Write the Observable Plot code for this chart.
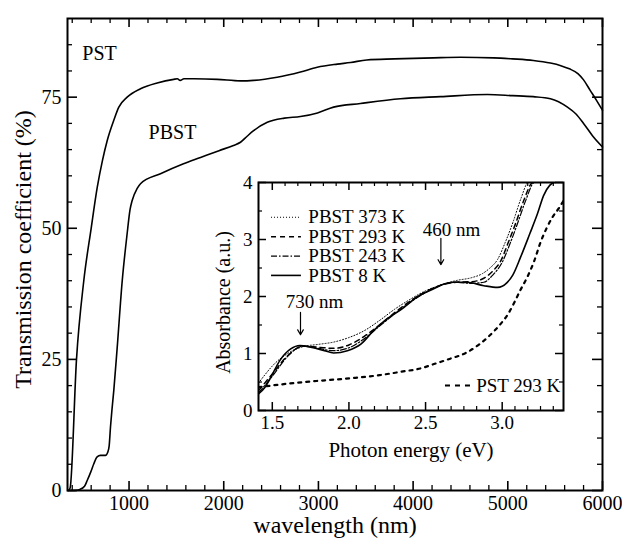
<!DOCTYPE html>
<html><head><meta charset="utf-8">
<script src="https://cdn.jsdelivr.net/npm/d3@7"></script>
<script src="https://cdn.jsdelivr.net/npm/@observablehq/plot@0.6"></script>
<style>
body{margin:0;background:#fff;}
#wrap{position:relative;width:622px;height:541px;}
#inset{position:absolute;left:200px;top:172px;}
</style></head><body>
<div id="wrap"><div id="main"></div><div id="inset"></div></div>
<script>
// ---- main chart data: [wavelength nm, transmission %] ----
const pstTransmission = [[362,0],[378,0.5],[445,25],[522,40],[600,50],[664,57.8],[720,63],[769,66.7],[839,70.6],[892,73.1],[980,75],[1121,76.6],[1297,77.7],[1472,78.4],[1510,78.5],[1540,78.2],[1580,78.5],[1684,78.5],[1931,78.4],[2177,78.1],[2317,78.2],[2564,78.8],[2810,79.8],[2987,80.7],[3200,81.3],[3340,81.6],[3510,82.1],[3800,82.3],[4215,82.5],[4500,82.6],[4850,82.5],[5050,82.3],[5270,82],[5450,81.5],[5560,81],[5650,80.4],[5740,79.5],[5800,78.3],[5870,76.3],[5940,74.3],[6000,72.5]];
const pbstTransmission = [[355,0],[420,0],[480,0.2],[530,0.8],[558,1.9],[595,3.5],[628,5.1],[663,6.4],[698,6.7],[751,6.7],[775,7.3],[790,8.5],[804,12.1],[820,15.5],[839,19.1],[875,27.3],[928,40],[980,49],[1010,53.5],[1033,55.3],[1086,57.6],[1121,58.5],[1332,60.4],[1575,62.3],[1755,63.5],[1950,64.8],[2103,65.8],[2177,66.4],[2250,67.6],[2315,68.6],[2460,70.2],[2640,71.0],[2810,71.3],[2990,72],[3160,73.1],[3444,73.8],[3866,74.7],[4290,75.1],[4785,75.5],[5050,75.3],[5270,75.1],[5450,74.7],[5630,73.1],[5720,71.8],[5800,70],[5905,67.4],[6000,65.5]];
const mainXTicks = [1000,2000,3000,4000,5000,6000];
const mainYTicks = [0,25,50,75];
const curveLabels = ["PST","PBST"];

// ---- inset data: [photon energy eV, absorbance a.u.] ----
const pbst373 = [[1.41,0.48],[1.45,0.62],[1.5,0.78],[1.6,1.0],[1.7,1.12],[1.8,1.16],[1.9,1.2],[2.0,1.28],[2.1,1.4],[2.2,1.58],[2.3,1.78],[2.4,1.95],[2.5,2.1],[2.6,2.2],[2.7,2.28],[2.8,2.33],[2.87,2.4],[2.92,2.5],[2.97,2.65],[3.02,2.95],[3.07,3.3],[3.12,3.7],[3.17,4.0],[3.25,4.02]];
const pbst293 = [[1.41,0.35],[1.5,0.64],[1.6,0.96],[1.7,1.13],[1.8,1.11],[1.9,1.09],[2.0,1.15],[2.1,1.3],[2.2,1.5],[2.3,1.72],[2.4,1.92],[2.5,2.08],[2.6,2.2],[2.7,2.25],[2.8,2.26],[2.88,2.32],[2.94,2.45],[2.99,2.62],[3.04,2.95],[3.09,3.3],[3.14,3.68],[3.2,4.0],[3.28,4.02]];
const pbst243 = [[1.41,0.31],[1.5,0.6],[1.6,0.95],[1.7,1.13],[1.8,1.09],[1.9,1.05],[2.0,1.1],[2.1,1.26],[2.2,1.48],[2.3,1.7],[2.4,1.9],[2.5,2.07],[2.6,2.2],[2.7,2.25],[2.8,2.23],[2.88,2.25],[2.94,2.38],[3.0,2.6],[3.05,2.92],[3.1,3.28],[3.15,3.66],[3.21,4.0],[3.3,4.02]];
const pbst8 = [[1.41,0.29],[1.45,0.4],[1.49,0.58],[1.55,0.88],[1.62,1.08],[1.68,1.14],[1.75,1.11],[1.84,1.05],[1.90,1.01],[1.99,1.05],[2.08,1.17],[2.16,1.40],[2.25,1.61],[2.34,1.77],[2.45,2.0],[2.55,2.13],[2.62,2.22],[2.68,2.25],[2.77,2.25],[2.88,2.19],[2.97,2.16],[3.03,2.24],[3.07,2.38],[3.12,2.69],[3.18,3.1],[3.23,3.45],[3.27,3.77],[3.31,3.95],[3.34,4.0],[3.4,4.02]];
const pst293 = [[1.41,0.41],[1.6,0.47],[1.8,0.52],[2.03,0.57],[2.2,0.62],[2.34,0.68],[2.47,0.74],[2.55,0.81],[2.65,0.9],[2.77,1.02],[2.85,1.16],[2.90,1.27],[2.95,1.4],[2.99,1.52],[3.04,1.7],[3.08,1.9],[3.12,2.12],[3.16,2.32],[3.21,2.63],[3.25,2.95],[3.29,3.2],[3.33,3.4],[3.37,3.55],[3.40,3.68]];
const insetXTicks = [1.5,2.0,2.5,3.0];
const insetYTicks = [0,1,2,3,4];
const legendLabels = ["PBST 373 K","PBST 293 K","PBST 243 K","PBST 8 K"];
const pstLegendLabel = "PST 293 K";
const peakLabels = ["460 nm","730 nm"];

const FONT = "'Liberation Serif','Times New Roman',serif";

// ---------------- main chart ----------------
const W = 622, H = 541, ML = 67, MR = 20, MT = 18, MB = 51;
const iw = W - ML - MR, ih = H - MT - MB;
const xMinor = d3.range(400, 6000, 200).filter(d => d % 1000 !== 0);
const yMinor = d3.range(5, 90, 5).filter(d => d % 25 !== 0);
const id = d => d;

const main = Plot.plot({
  width: W, height: H, marginLeft: ML, marginRight: MR, marginTop: MT, marginBottom: MB,
  style: {fontFamily: FONT, fontSize: "20px", color: "black", background: "white"},
  x: {domain: [350, 6000]},
  y: {domain: [0, 90]},
  marks: [
    Plot.tickX(xMinor, {x: id, insetTop: ih - 5, strokeWidth: 1.3}),
    Plot.tickX(xMinor, {x: id, insetBottom: ih - 5, strokeWidth: 1.3}),
    Plot.tickX(mainXTicks, {x: id, insetTop: ih - 9, strokeWidth: 1.6}),
    Plot.tickX(mainXTicks, {x: id, insetBottom: ih - 9, strokeWidth: 1.6}),
    Plot.tickY(yMinor, {y: id, insetRight: iw - 5, strokeWidth: 1.3}),
    Plot.tickY(yMinor, {y: id, insetLeft: iw - 5, strokeWidth: 1.3}),
    Plot.tickY(mainYTicks, {y: id, insetRight: iw - 10, strokeWidth: 1.6}),
    Plot.tickY(mainYTicks, {y: id, insetLeft: iw - 10, strokeWidth: 1.6}),
    Plot.axisX(mainXTicks, {tickSize: 0, tickPadding: 5, label: null, tickFormat: d => String(d), fontSize: 20}),
    Plot.axisY(mainYTicks, {tickSize: 0, tickPadding: 6, label: null, tickFormat: d => String(d), fontSize: 20}),
    Plot.line(pstTransmission, {x: d => d[0], y: d => d[1], curve: "monotone-x", stroke: "black", strokeWidth: 1.6}),
    Plot.line(pbstTransmission, {x: d => d[0], y: d => d[1], curve: "monotone-x", stroke: "black", strokeWidth: 1.6}),
    Plot.text([curveLabels[0]], {x: 688, y: 83.3, text: id, fontSize: 20}),
    Plot.text([curveLabels[1]], {x: 1459, y: 68.3, text: id, fontSize: 20}),
    Plot.text(["wavelength (nm)"], {frameAnchor: "bottom", textAnchor: "middle", lineAnchor: "middle", dy: 35, text: id, fontSize: 24}),
    Plot.text(["Transmission coefficient (%)"], {frameAnchor: "left", textAnchor: "middle", lineAnchor: "middle", rotate: -90, dx: -44, dy: -5, text: id, fontSize: 24}),
    Plot.frame({stroke: "black", strokeWidth: 2})
  ]
});
document.getElementById("main").append(main);

// ---------------- inset ----------------
const IW = 372, IH = 290, IML = 58, IMR = 9, IMT = 10, IMB = 52;
const iiw = IW - IML - IMR, iih = IH - IMT - IMB;
const ixMinor = d3.range(1, 23).filter(k => k % 6 !== 0).map(k => 1.5 + k / 12);
const iyMinor = [0.5, 1.5, 2.5, 3.5];
const styles = [
  {strokeDasharray: "1,2", strokeWidth: 1},
  {strokeDasharray: "5,4", strokeWidth: 1.5},
  {strokeDasharray: "6,2,1.5,2", strokeWidth: 1.2},
  {strokeDasharray: null, strokeWidth: 1.6}
];
const series = [pbst373, pbst293, pbst243, pbst8];
const legendMarks = [];
legendLabels.forEach((lab, i) => {
  const yy = 3.39 - i * 0.34;
  legendMarks.push(Plot.ruleY([yy], {x1: 1.495, x2: 1.69, stroke: "black", ...styles[i]}));
  legendMarks.push(Plot.text([lab], {x: 1.735, y: yy, text: id, textAnchor: "start", fontSize: 19}));
});

const inset = Plot.plot({
  width: IW, height: IH, marginLeft: IML, marginRight: IMR, marginTop: IMT, marginBottom: IMB,
  style: {fontFamily: FONT, fontSize: "19px", color: "black", background: "white"},
  x: {domain: [1.41, 3.4]},
  y: {domain: [0, 4]},
  marks: [
    Plot.tickX(ixMinor, {x: id, insetTop: iih - 4, strokeWidth: 1.2}),
    Plot.tickX(ixMinor, {x: id, insetBottom: iih - 4, strokeWidth: 1.2}),
    Plot.tickX(insetXTicks, {x: id, insetTop: iih - 8, strokeWidth: 1.5}),
    Plot.tickX(insetXTicks, {x: id, insetBottom: iih - 8, strokeWidth: 1.5}),
    Plot.tickY(iyMinor, {y: id, insetRight: iiw - 4, strokeWidth: 1.2}),
    Plot.tickY(iyMinor, {y: id, insetLeft: iiw - 4, strokeWidth: 1.2}),
    Plot.tickY(insetYTicks, {y: id, insetRight: iiw - 8, strokeWidth: 1.5}),
    Plot.tickY(insetYTicks, {y: id, insetLeft: iiw - 8, strokeWidth: 1.5}),
    Plot.axisX(insetXTicks, {tickSize: 0, tickPadding: 5, label: null, tickFormat: d3.format(".1f"), fontSize: 19}),
    Plot.axisY(insetYTicks, {tickSize: 0, tickPadding: 6, label: null, tickFormat: d => String(d), fontSize: 19}),
    ...series.map((s, i) => Plot.line(s, {x: d => d[0], y: d => d[1], curve: "monotone-x", stroke: "black", clip: true, ...styles[i]})),
    Plot.line(pst293, {x: d => d[0], y: d => d[1], curve: "monotone-x", stroke: "black", strokeWidth: 2.2, strokeDasharray: "3,5", clip: true}),
    ...legendMarks,
    Plot.ruleY([0.44], {x1: 2.63, x2: 2.82, stroke: "black", strokeWidth: 2, strokeDasharray: "5,5"}),
    Plot.text([pstLegendLabel], {x: 2.83, y: 0.44, text: id, textAnchor: "start", fontSize: 19}),
    Plot.text([peakLabels[0]], {x: 2.67, y: 3.16, text: id, fontSize: 19}),
    Plot.arrow([0], {x1: 2.60, y1: 3.02, x2: 2.60, y2: 2.56, stroke: "black", strokeWidth: 1.2, headLength: 7}),
    Plot.text([peakLabels[1]], {x: 1.775, y: 1.9, text: id, fontSize: 19}),
    Plot.arrow([0], {x1: 1.684, y1: 1.72, x2: 1.684, y2: 1.33, stroke: "black", strokeWidth: 1.2, headLength: 7}),
    Plot.text(["Photon energy (eV)"], {frameAnchor: "bottom", textAnchor: "middle", lineAnchor: "middle", dy: 40, text: id, fontSize: 21}),
    Plot.text(["Absorbance (a.u.)"], {frameAnchor: "left", textAnchor: "middle", lineAnchor: "middle", rotate: -90, dx: -35, dy: 6, text: id, fontSize: 20}),
    Plot.frame({stroke: "black", strokeWidth: 2})
  ]
});
document.getElementById("inset").append(inset);
</script>
</body></html>
